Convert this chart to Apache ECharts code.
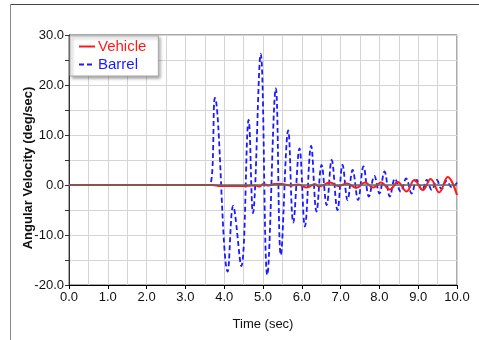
<!DOCTYPE html>
<html><head><meta charset="utf-8">
<script src="https://cdn.jsdelivr.net/npm/echarts@6/dist/echarts.min.js"></script>
<style>html,body{margin:0;padding:0;background:#fff}#c{width:479px;height:340px}</style>
</head><body><div id="c"></div>
<script>
var seriesNames = ["Vehicle", "Barrel"];
var yAxisTitle = "Angular Velocity (deg/sec)";
var xAxisTitle = "Time (sec)";

var vehicleTime = [0,3.7,3.9,4.5,4.8,4.92,5.0,5.15,5.3,5.48,5.7,5.9,6.13,6.34,6.43,6.73,6.94,7.17,7.4,7.63,7.84,8.04,8.27,8.47,8.7,8.9,9.12,9.32,9.54,9.76,10];
var vehicleVel  = [0,0,-0.2,-0.2,-0.1,-0.3,0.2,-0.1,0.2,0.2,-0.1,0.1,-0.5,0.2,-0.3,0.5,-0.2,0.3,-0.6,0.5,-0.5,0.5,-0.9,0.6,-1.3,1.0,-1.0,1.2,-1.5,1.6,-2.0];

var barrelTime = [0,3.62,3.76,4.09,4.23,4.44,4.63,4.74,4.94,5.11,5.33,5.46,5.65,5.78,5.94,6.08,6.24,6.38,6.51,6.64,6.77,6.92,7.05,7.18,7.31,7.45,7.59,7.73,7.87,8.0,8.13,8.27,8.4,8.55,8.69,8.83,8.96,9.1,9.22,9.35,9.48,9.6,9.73,9.87,10];
var barrelVel  = [0,0,17.4,-17.3,-4.2,-16.2,13,-5.6,26.2,-18,19.3,-14,10.9,-7.5,7.3,-8.3,7.8,-5.3,4,-4,5,-5,4,-3,3,-3,3.7,-2.3,1.8,-1.7,2.7,-2.3,1.3,-1.3,1.3,-1.7,1,-1,1,-1,1,-0.8,0.8,-0.5,0.5];

function pairs(t, v){ return t.map(function(x,i){ return [x, v[i]]; }); }

var narrow = "'Liberation Sans Narrow','Arial Narrow','Liberation Sans',Arial,sans-serif";
var chart = echarts.init(document.getElementById('c'), null, {renderer:'canvas'});
chart.setOption({
  animation:false,
  backgroundColor:'#fff',
  grid:{left:69,right:22,top:35,bottom:55,show:true,borderColor:'#555',borderWidth:1,backgroundColor:'transparent'},
  legend:{
    orient:'vertical', left:70, top:36, itemGap:3, itemWidth:16, itemHeight:10,
    padding:[3,12,4,8],
    backgroundColor:'#fff', borderColor:'#aaa', borderWidth:1,
    shadowColor:'rgba(0,0,0,0.35)', shadowBlur:3, shadowOffsetX:2, shadowOffsetY:2,
    itemStyle:{opacity:0},
    textStyle:{fontFamily:"'Liberation Sans',Arial,sans-serif", fontSize:15, padding:[0,0,0,-2]},
    data:[
      {name:seriesNames[0], textStyle:{color:'#ff1a1a'}},
      {name:seriesNames[1], textStyle:{color:'#1a1aff'}}
    ]
  },
  xAxis:{
    type:'value', min:0, max:10, interval:1,
    name:xAxisTitle, nameLocation:'middle', nameGap:33,
    nameTextStyle:{fontFamily:narrow, fontSize:13, color:'#111'},
    axisLine:{onZero:false, lineStyle:{color:'#000', width:1}},
    axisTick:{show:true, length:4, lineStyle:{color:'#000'}},
    axisLabel:{fontFamily:narrow, fontSize:13, color:'#111', margin:6, formatter:function(v){return v.toFixed(1);}},
    splitLine:{show:true, lineStyle:{color:'#d4d4d4', width:1}},
    minorTick:{show:false, splitNumber:2},
    minorSplitLine:{show:true, lineStyle:{color:'#d4d4d4', width:1}}
  },
  yAxis:{
    type:'value', min:-20, max:30, interval:10,
    axisLine:{show:true, lineStyle:{color:'#333', width:1}},
    axisTick:{show:true, length:4, lineStyle:{color:'#333'}},
    axisLabel:{fontFamily:narrow, fontSize:13, color:'#111', margin:5, formatter:function(v){return v.toFixed(1);}},
    splitLine:{show:true, lineStyle:{color:'#d4d4d4', width:1}},
    minorTick:{show:true, splitNumber:2, length:4, lineStyle:{color:'#333'}},
    minorSplitLine:{show:true, lineStyle:{color:'#d4d4d4', width:1}}
  },
  series:[
    {name:seriesNames[1], type:'line', data:pairs(barrelTime, barrelVel), smooth:0.4, symbol:'none', z:2,
     lineStyle:{color:'#1a1aff', width:1.8, type:[5,3]}, itemStyle:{color:'#1a1aff'},
     markLine:{silent:true, symbol:'none', label:{show:false}, lineStyle:{color:'#666', width:1.5, type:'solid'}, data:[{yAxis:0}]}},
    {name:seriesNames[0], type:'line', data:pairs(vehicleTime, vehicleVel), smooth:0.4, symbol:'none', z:3,
     lineStyle:{color:'#ff1a1a', width:2}, itemStyle:{color:'#ff1a1a'}}
  ],
  graphic:[
    {type:'line', shape:{x1:10,y1:4.5,x2:479,y2:4.5}, style:{stroke:'#444', lineWidth:1}},
    {type:'line', shape:{x1:10.5,y1:4,x2:10.5,y2:340}, style:{stroke:'#888', lineWidth:1}},
    {type:'text', x:28, y:168, rotation:Math.PI/2,
     style:{text:yAxisTitle, fill:'#111', font:"bold 13px 'Liberation Sans', Arial, sans-serif", align:'center', verticalAlign:'middle'}}
  ]
});
</script></body></html>
